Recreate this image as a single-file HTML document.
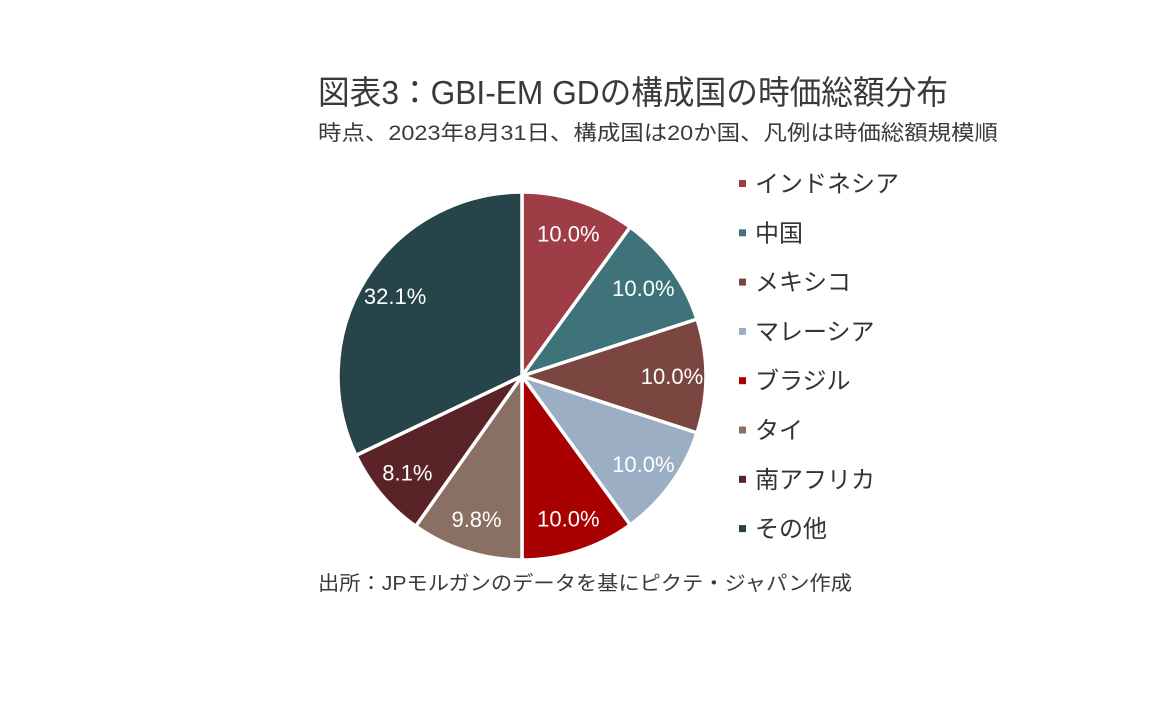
<!DOCTYPE html>
<html><head><meta charset="utf-8">
<style>
html,body{margin:0;padding:0;background:#fff;}
svg{display:block;}
text{font-family:"Liberation Sans","Noto Sans CJK JP",sans-serif;}
</style></head>
<body>
<svg id="chart" width="1152" height="720" viewBox="0 0 1152 720">
  <rect width="1152" height="720" fill="#fff"/>
  <text x="318" y="104" font-size="33" fill="#3a3a3a" textLength="630" lengthAdjust="spacingAndGlyphs">図表3：GBI-EM GDの構成国の時価総額分布</text>
  <text x="318" y="140" font-size="21" fill="#3a3a3a" textLength="680" lengthAdjust="spacingAndGlyphs">時点、2023年8月31日、構成国は20か国、凡例は時価総額規模順</text>
  <g id="slices"></g>
  <g id="labels"></g>
  <g id="legend"></g>
  <text x="318" y="590" font-size="20" fill="#3a3a3a" textLength="534" lengthAdjust="spacingAndGlyphs">出所：JPモルガンのデータを基にピクテ・ジャパン作成</text>
</svg>
<script>
const categories = ["インドネシア","中国","メキシコ","マレーシア","ブラジル","タイ","南アフリカ","その他"];
const values = [10.0,10.0,10.0,10.0,10.0,9.8,8.1,32.1];
const colors = ["#9E3D45","#3F737A","#7B463F","#9CAEC3","#A80000","#8A7064","#5A2328","#27444A"];
const NS="http://www.w3.org/2000/svg";
const cx=522, cy=376, R=184, LR=150;
const total=values.reduce((a,b)=>a+b,0);
const sg=document.getElementById('slices'), lg=document.getElementById('labels'), leg=document.getElementById('legend');
function pt(a,r){return [cx+r*Math.sin(a), cy-r*Math.cos(a)];}
let acc=0;
values.forEach((v,i)=>{
  const a0=acc/total*2*Math.PI; acc+=v; const a1=acc/total*2*Math.PI;
  const p0=pt(a0,R), p1=pt(a1,R);
  const large=(a1-a0)>Math.PI?1:0;
  const p=document.createElementNS(NS,'path');
  p.setAttribute('d',`M${cx},${cy} L${p0[0]},${p0[1]} A${R},${R} 0 ${large} 1 ${p1[0]},${p1[1]} Z`);
  p.setAttribute('fill',colors[i]); p.setAttribute('stroke','#fff'); p.setAttribute('stroke-width','3.5');
  p.setAttribute('stroke-linejoin','round');
  
  
  sg.appendChild(p);
  const m=pt((a0+a1)/2,LR);
  const t=document.createElementNS(NS,'text');
  t.setAttribute('x',m[0]); t.setAttribute('y',m[1]+8);
  t.setAttribute('text-anchor','middle'); t.setAttribute('font-size','22'); t.setAttribute('fill','#fff');
  t.textContent=v.toFixed(1)+'%';
  
  
  lg.appendChild(t);
  const y=183+i*49.3;
  const g=document.createElementNS(NS,'g');
  
  
  const r=document.createElementNS(NS,'rect');
  r.setAttribute('x',739); r.setAttribute('y',y-3); r.setAttribute('width',7); r.setAttribute('height',7); r.setAttribute('fill',colors[i]);
  g.appendChild(r);
  const lt=document.createElementNS(NS,'text');
  lt.setAttribute('x',755); lt.setAttribute('y',y+9); lt.setAttribute('font-size','24'); lt.setAttribute('fill','#333');
  lt.textContent=categories[i];
  g.appendChild(lt);
  leg.appendChild(g);
});
</script>
</body></html>
